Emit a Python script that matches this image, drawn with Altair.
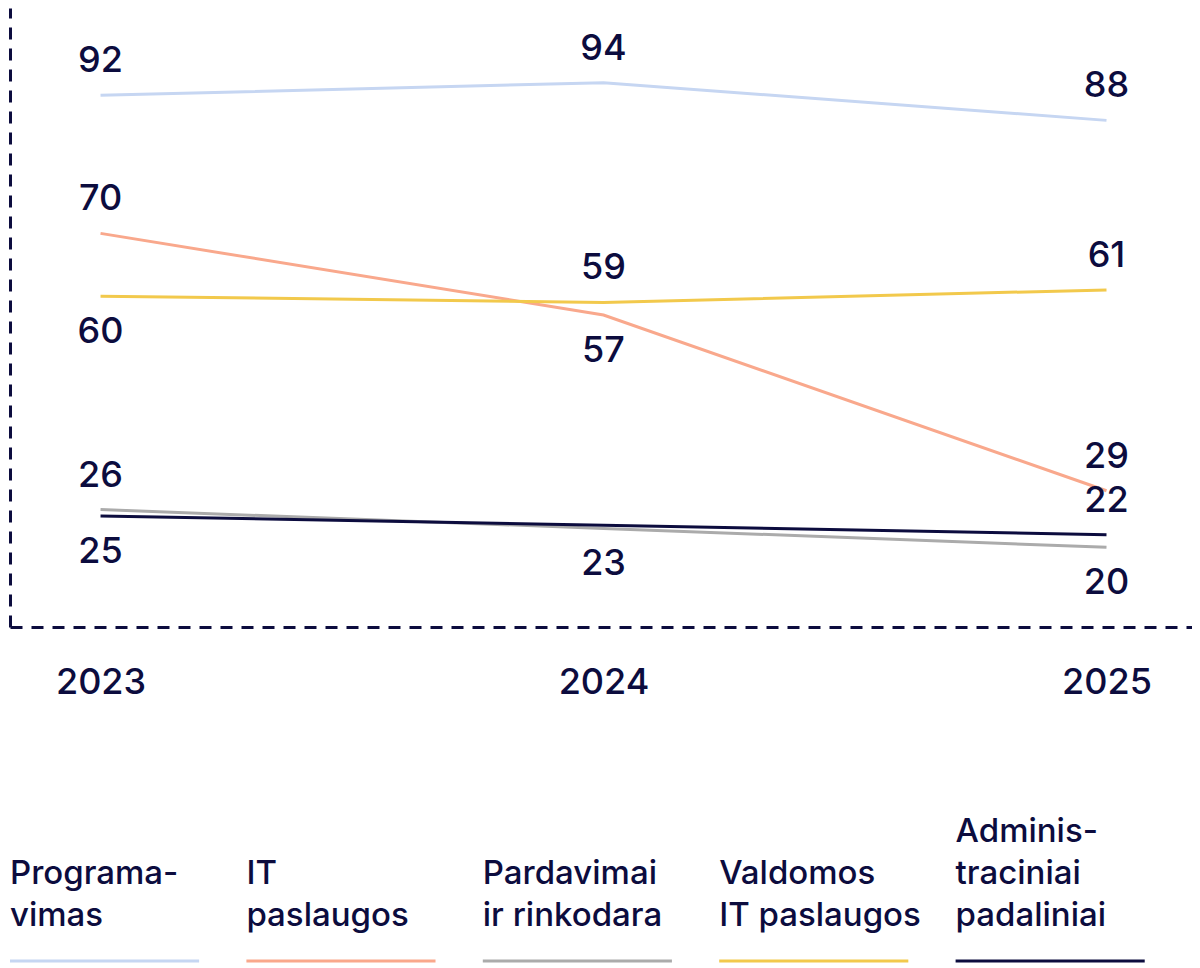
import altair as alt
import pandas as pd

years = [2023, 2024, 2025]
series = ["Programavimas", "IT paslaugos", "Pardavimai ir rinkodara",
          "Valdomos IT paslaugos", "Administraciniai padaliniai"]
legend_text = [["Programa-", "vimas"], ["IT", "paslaugos"], ["Pardavimai", "ir rinkodara"],
               ["Valdomos", "IT paslaugos"], ["Adminis-", "traciniai", "padaliniai"]]
colors = ["#c6d6f2", "#f9a88c", "#ababab", "#f2c94c", "#0c0c3e"]
values = {
    "Programavimas": [92, 94, 88],
    "IT paslaugos": [70, 57, 29],
    "Pardavimai ir rinkodara": [26, 23, 20],
    "Valdomos IT paslaugos": [60, 59, 61],
    "Administraciniai padaliniai": [25, 23.5, 22],
}
labels = {
    "Programavimas": ["92", "94", "88"],
    "IT paslaugos": ["70", "57", "29"],
    "Pardavimai ir rinkodara": ["26", "23", "20"],
    "Valdomos IT paslaugos": ["60", "59", "61"],
    "Administraciniai padaliniai": ["25", "", "22"],
}
# which labels sit under the line
below = {
    "Programavimas": [0, 0, 0],
    "IT paslaugos": [0, 1, 0],
    "Pardavimai ir rinkodara": [0, 1, 1],
    "Valdomos IT paslaugos": [1, 0, 0],
    "Administraciniai padaliniai": [1, 0, 0],
}

NAVY = "#0c0c3e"
rows = []
for s in series:
    for i, y in enumerate(years):
        rows.append({"series": s, "year": y, "value": values[s][i],
                     "label": labels[s][i], "below": below[s][i]})
df = pd.DataFrame(rows)

color = alt.Color("series:N", scale=alt.Scale(domain=series, range=colors), legend=None)
x = alt.X("year:Q", scale=alt.Scale(domain=[2022.82, 2025.17], nice=False, zero=False),
          axis=alt.Axis(values=years, format="d", title=None, ticks=False, grid=False,
                        labelFontSize=36, labelPadding=38, labelColor=NAVY,
                        domainDash=[12, 9], domainWidth=3, domainColor=NAVY,
                        labelFont="Inter", labelFontWeight=500))
y = alt.Y("value:Q", scale=alt.Scale(domain=[7.3, 105.9], nice=False, zero=False),
          axis=alt.Axis(title=None, labels=False, ticks=False, grid=False,
                        domainDash=[12, 9], domainWidth=3, domainColor=NAVY))

base = alt.Chart(df)
lines = base.mark_line(strokeWidth=3).encode(x=x, y=y, color=color, detail="series:N")
above_txt = base.transform_filter("datum.below == 0").mark_text(
    dy=-34, fontSize=36, color=NAVY, font="Inter", fontWeight=500).encode(x=x, y=y, text="label:N")
below_txt = base.transform_filter("datum.below == 1").mark_text(
    dy=36, fontSize=36, color=NAVY, font="Inter", fontWeight=500).encode(x=x, y=y, text="label:N")
plot = alt.layer(lines, above_txt, below_txt).properties(width=1182, height=619)

leg_rows = []
for i, s in enumerate(series):
    n = len(legend_text[i])
    for j, t in enumerate(legend_text[i]):
        leg_rows.append({"series": s, "idx": i, "text": t, "k": n - 1 - j})
leg_df = pd.DataFrame(leg_rows)
lx = alt.X("idx:Q", scale=alt.Scale(domain=[0, 5], nice=False), axis=None)
ly = alt.Y("py:Q", scale=alt.Scale(domain=[0, 168], range=[0, 168]), axis=None)
leg_txt = alt.Chart(leg_df).transform_calculate(py="121 - 42 * datum.k").mark_text(
    align="left", baseline="middle", fontSize=33, color=NAVY, font="Inter",
    fontWeight=500).encode(x=lx, y=ly, text="text:N")
rule_df = pd.DataFrame({"series": series, "idx": list(range(5))})
leg_rule = alt.Chart(rule_df).transform_calculate(end="datum.idx + 0.8").mark_rule(
    strokeWidth=3).encode(x=lx, x2="end:Q", y=alt.value(166), color=color)
legend = alt.layer(leg_txt, leg_rule).properties(width=1182, height=168)

chart = alt.vconcat(plot, legend, spacing=95).properties(
    padding=0, background="white").configure_view(strokeWidth=0)

chart.save("out.html", embed_options={"renderer": "svg", "actions": False})
